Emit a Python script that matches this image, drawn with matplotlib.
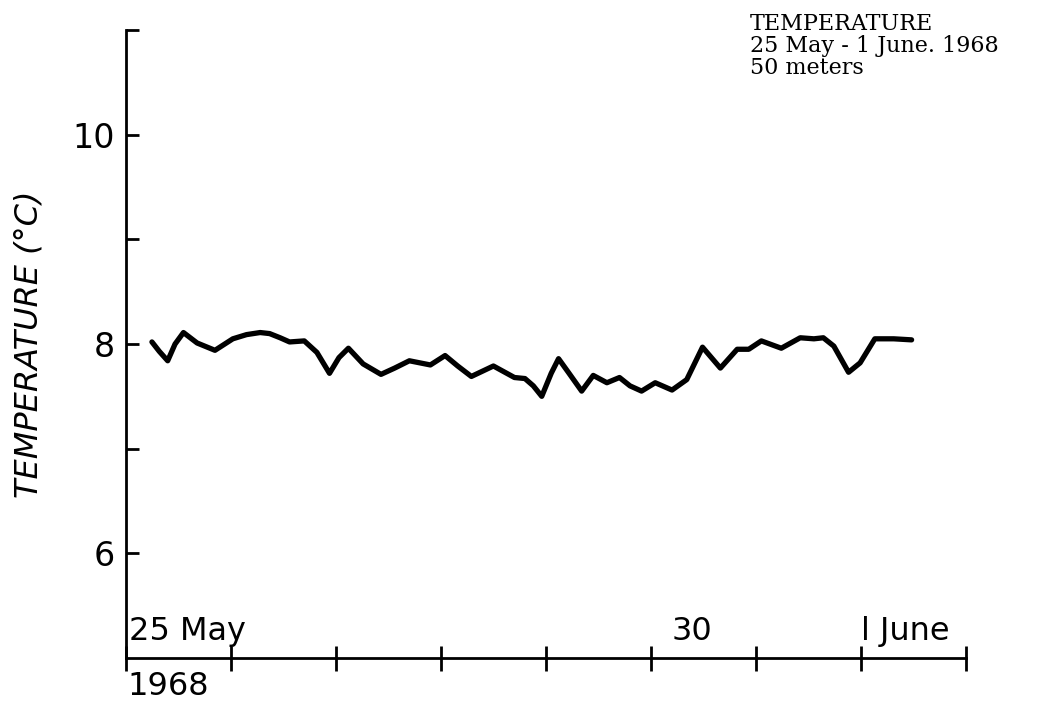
import matplotlib.pyplot as plt

# days after 25 May 1968 00:00, temperature in deg C
days = [0.25, 0.32, 0.40, 0.47, 0.55, 0.68, 0.85, 1.02, 1.15, 1.28, 1.37, 1.47,
        1.56, 1.70, 1.82, 1.94, 2.03, 2.12, 2.26, 2.43, 2.56, 2.70, 2.90, 3.04,
        3.16, 3.29, 3.50, 3.70, 3.80, 3.88, 3.96, 4.05, 4.12, 4.22, 4.34, 4.45,
        4.58, 4.70, 4.80, 4.91, 5.04, 5.20, 5.34, 5.49, 5.66, 5.82, 5.93, 6.05,
        6.24, 6.42, 6.55, 6.64, 6.74, 6.88, 6.99, 7.13, 7.31, 7.48]
temps = [8.02, 7.93, 7.84, 8.00, 8.11, 8.01, 7.94, 8.05, 8.09, 8.11, 8.10, 8.06,
         8.02, 8.03, 7.92, 7.72, 7.87, 7.96, 7.81, 7.71, 7.77, 7.84, 7.80, 7.89,
         7.79, 7.69, 7.79, 7.68, 7.67, 7.60, 7.50, 7.72, 7.86, 7.72, 7.55, 7.70,
         7.63, 7.68, 7.60, 7.55, 7.63, 7.56, 7.66, 7.97, 7.77, 7.95, 7.95, 8.03,
         7.96, 8.06, 8.05, 8.06, 7.98, 7.73, 7.82, 8.05, 8.05, 8.04]

y_ticks = [6, 7, 8, 9, 10, 11]
y_labels = ['6', '', '8', '', '10', '']
x_ticks = [0, 1, 2, 3, 4, 5, 6, 7, 8]
day_labels = ['25 May', '30', 'l June']
day_label_pos = [0.03, 5.2, 7.0]

fig = plt.figure(figsize=(10.56, 7.05), dpi=100)
ax = fig.add_axes([0.119, 0.067, 0.796, 0.890])

ax.plot(days, temps, color='black', lw=3.8, solid_joinstyle='round',
        solid_capstyle='round')

ax.set_xlim(0, 8)
ax.set_ylim(5, 11)

for side in ['top', 'right']:
    ax.spines[side].set_visible(False)
for side in ['left', 'bottom']:
    ax.spines[side].set_linewidth(2.0)

ax.set_yticks(y_ticks)
ax.set_yticklabels(y_labels, fontsize=24)
ax.tick_params(axis='y', direction='in', length=9, width=2.0, pad=8)
ax.set_xticks(x_ticks)
ax.set_xticklabels([])
ax.tick_params(axis='x', direction='inout', length=18, width=2.0)

ax.set_ylabel('TEMPERATURE (°C)', fontsize=23, style='italic', labelpad=20)

for lab, pos in zip(day_labels, day_label_pos):
    ax.text(pos, 5.1, lab, fontsize=23, ha='left', va='bottom')
ax.text(0.02, 4.87, '1968', fontsize=23, ha='left', va='top', clip_on=False)

fig.text(0.710, 0.982, 'TEMPERATURE\n25 May - 1 June. 1968\n50 meters',
         family='DejaVu Serif', fontsize=16, ha='left', va='top', linespacing=1.0)

fig.savefig('out.png', dpi=100)
